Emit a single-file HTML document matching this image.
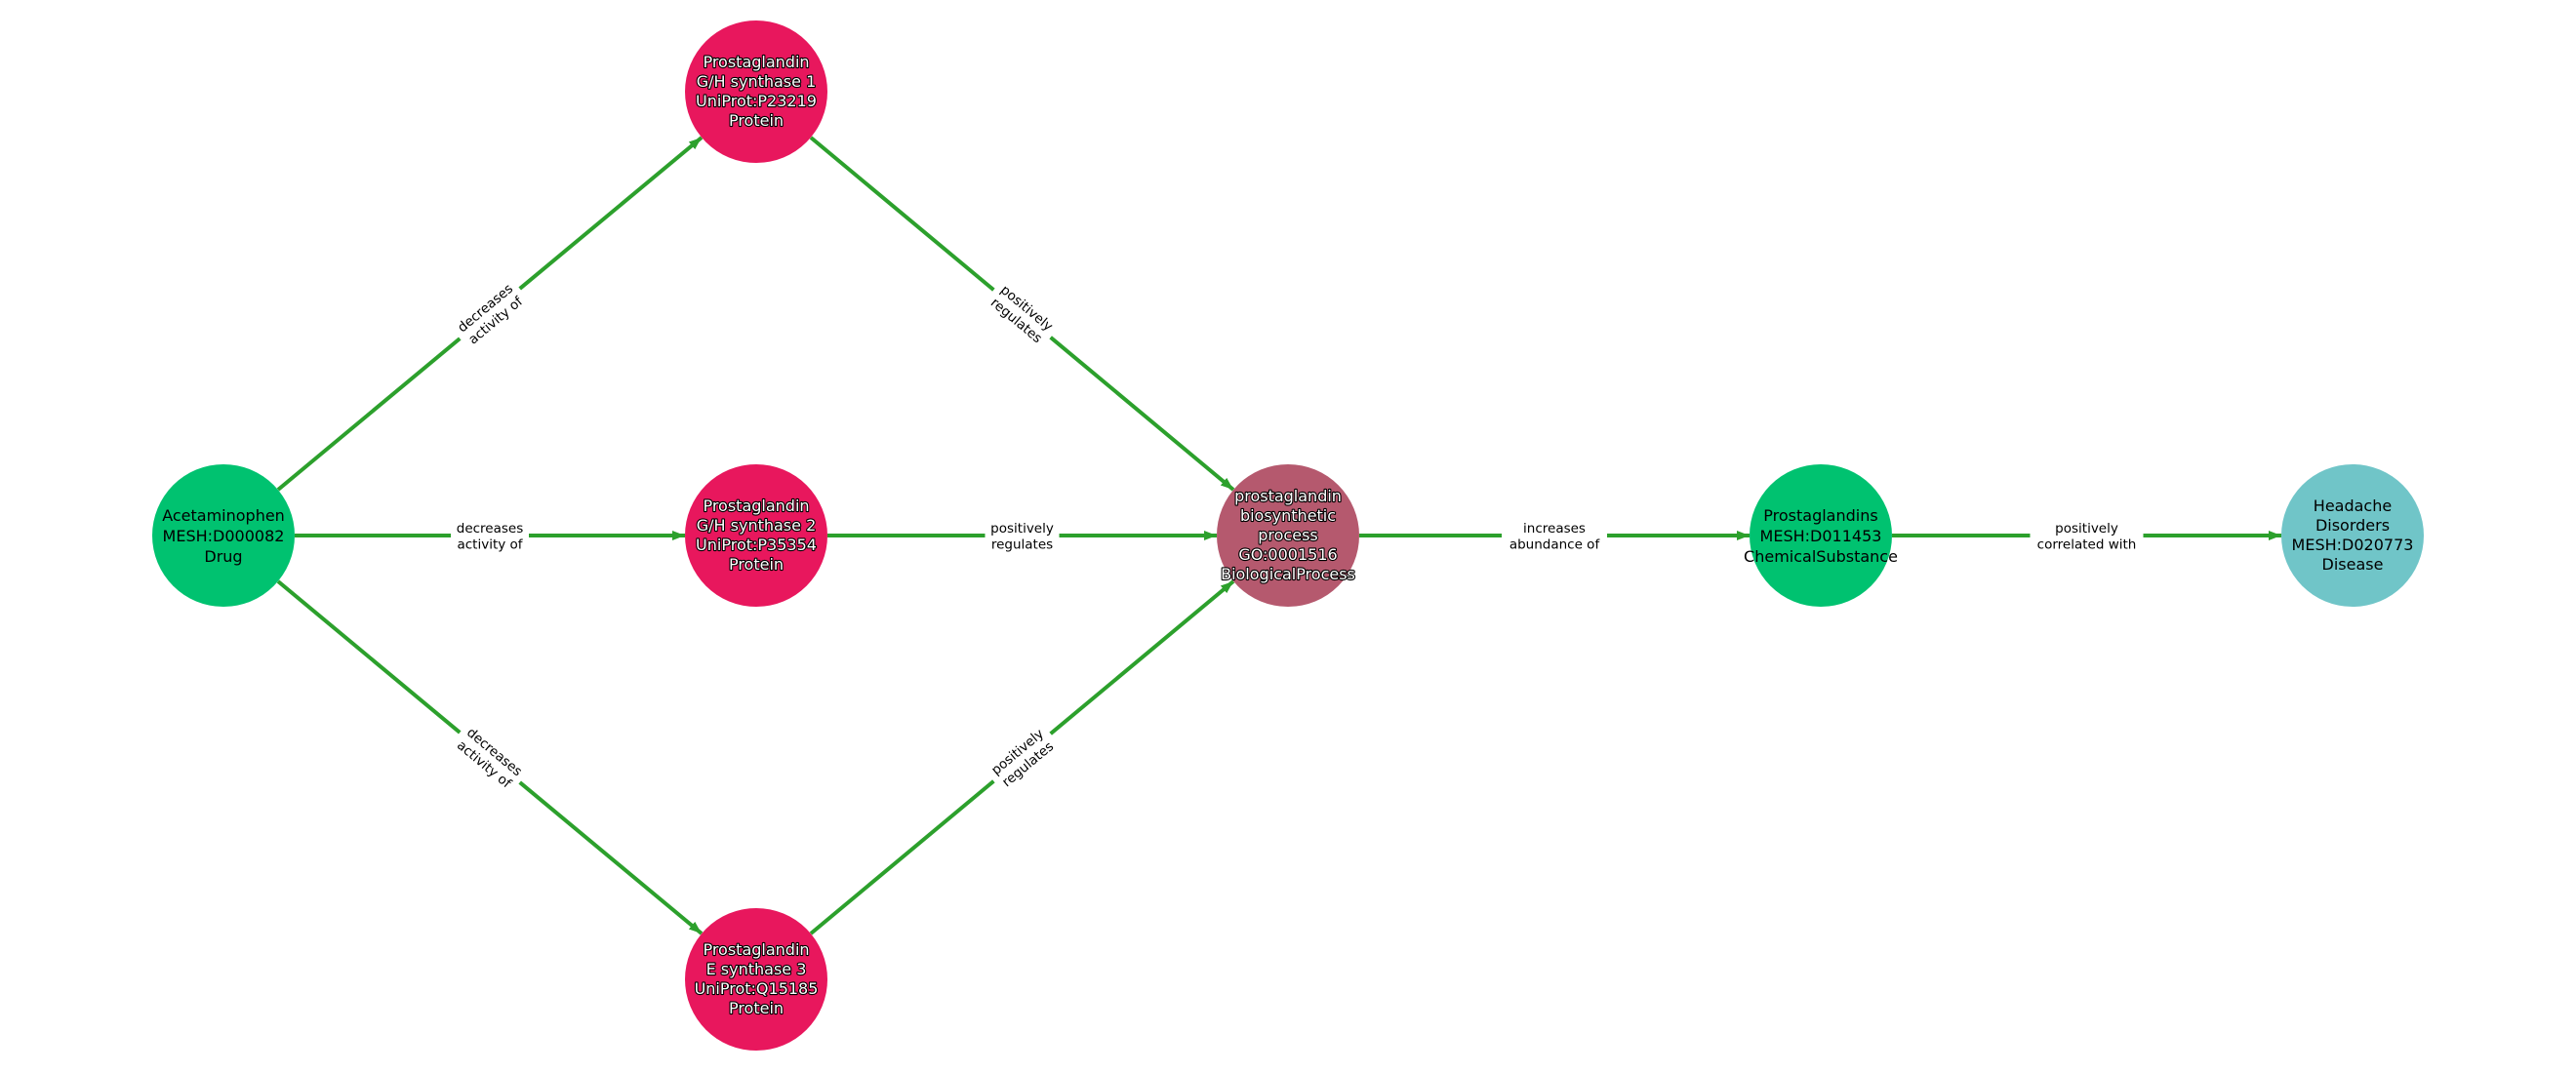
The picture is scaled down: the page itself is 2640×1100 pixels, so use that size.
<!DOCTYPE html>
<html><head><meta charset="utf-8"><style>
html,body{margin:0;padding:0;background:#fff;}
svg{display:block;}
text{font-family:"DejaVu Sans","Liberation Sans",sans-serif;}
.n{font-size:16px;text-anchor:middle;}
.w{fill:#fff;stroke:#000;stroke-width:2.2px;paint-order:stroke;stroke-linejoin:round;}
.e{font-size:13.5px;text-anchor:middle;fill:#000;}
</style></head><body>
<svg width="2640" height="1100" viewBox="0 0 2640 1100" xmlns="http://www.w3.org/2000/svg">
<defs>
<marker id="ar" markerUnits="userSpaceOnUse" markerWidth="14" markerHeight="12" refX="13" refY="6" orient="auto">
<path d="M0,1 L13,6 L0,11 Z" fill="#2ca02c"/>
</marker>
</defs>
<g stroke="#2ca02c" stroke-width="4" fill="none" marker-end="url(#ar)">
<line x1="285" y1="502" x2="719" y2="141"/>
<line x1="302" y1="549" x2="702" y2="549"/>
<line x1="285" y1="596" x2="719" y2="957"/>
<line x1="831" y1="141" x2="1264" y2="502"/>
<line x1="848" y1="549" x2="1247" y2="549"/>
<line x1="831" y1="957" x2="1264" y2="596"/>
<line x1="1393" y1="549" x2="1793" y2="549"/>
<line x1="1939" y1="549" x2="2338" y2="549"/>
</g>
<!-- edge labels -->
<g transform="translate(502,321.5) rotate(-39.8)"><rect x="-40" y="-18" width="80" height="36" fill="#fff"/><text class="e" y="-3">decreases</text><text class="e" y="13.5">activity of</text></g>
<g transform="translate(502,549)"><rect x="-40" y="-18" width="80" height="36" fill="#fff"/><text class="e" y="-3">decreases</text><text class="e" y="13.5">activity of</text></g>
<g transform="translate(502,776.5) rotate(39.8)"><rect x="-40" y="-18" width="80" height="36" fill="#fff"/><text class="e" y="-3">decreases</text><text class="e" y="13.5">activity of</text></g>
<g transform="translate(1047.5,321.5) rotate(39.8)"><rect x="-38" y="-18" width="76" height="36" fill="#fff"/><text class="e" y="-3">positively</text><text class="e" y="13.5">regulates</text></g>
<g transform="translate(1047.5,549)"><rect x="-38" y="-18" width="76" height="36" fill="#fff"/><text class="e" y="-3">positively</text><text class="e" y="13.5">regulates</text></g>
<g transform="translate(1047.5,776.5) rotate(-39.8)"><rect x="-38" y="-18" width="76" height="36" fill="#fff"/><text class="e" y="-3">positively</text><text class="e" y="13.5">regulates</text></g>
<g transform="translate(1593,549)"><rect x="-54" y="-18" width="108" height="36" fill="#fff"/><text class="e" y="-3">increases</text><text class="e" y="13.5">abundance of</text></g>
<g transform="translate(2138.5,549)"><rect x="-58" y="-18" width="116" height="36" fill="#fff"/><text class="e" y="-3">positively</text><text class="e" y="13.5">correlated with</text></g>
<!-- nodes -->
<circle cx="229" cy="549" r="73" fill="#00c270"/>
<circle cx="775" cy="94" r="73" fill="#e8175d"/>
<circle cx="775" cy="549" r="73" fill="#e8175d"/>
<circle cx="775" cy="1004" r="73" fill="#e8175d"/>
<circle cx="1320" cy="549" r="73" fill="#b5596e"/>
<circle cx="1866" cy="549" r="73" fill="#00c270"/>
<circle cx="2411" cy="549" r="73" fill="#70c5c8"/>
<g class="n">
<text x="229" y="534">Acetaminophen</text><text x="229" y="555">MESH:D000082</text><text x="229" y="576">Drug</text>
</g>
<g class="n w">
<text x="775" y="69">Prostaglandin</text><text x="775" y="89">G/H synthase 1</text><text x="775" y="109">UniProt:P23219</text><text x="775" y="129">Protein</text>
<text x="775" y="524">Prostaglandin</text><text x="775" y="544">G/H synthase 2</text><text x="775" y="564">UniProt:P35354</text><text x="775" y="584">Protein</text>
<text x="775" y="979">Prostaglandin</text><text x="775" y="999">E synthase 3</text><text x="775" y="1019">UniProt:Q15185</text><text x="775" y="1039">Protein</text>
<text x="1320" y="514">prostaglandin</text><text x="1320" y="534">biosynthetic</text><text x="1320" y="554">process</text><text x="1320" y="574">GO:0001516</text><text x="1320" y="594">BiologicalProcess</text>
</g>
<g class="n">
<text x="1866" y="534">Prostaglandins</text><text x="1866" y="555">MESH:D011453</text><text x="1866" y="576">ChemicalSubstance</text>
<text x="2411" y="524">Headache</text><text x="2411" y="544">Disorders</text><text x="2411" y="564">MESH:D020773</text><text x="2411" y="584">Disease</text>
</g>
</svg>
</body></html>
